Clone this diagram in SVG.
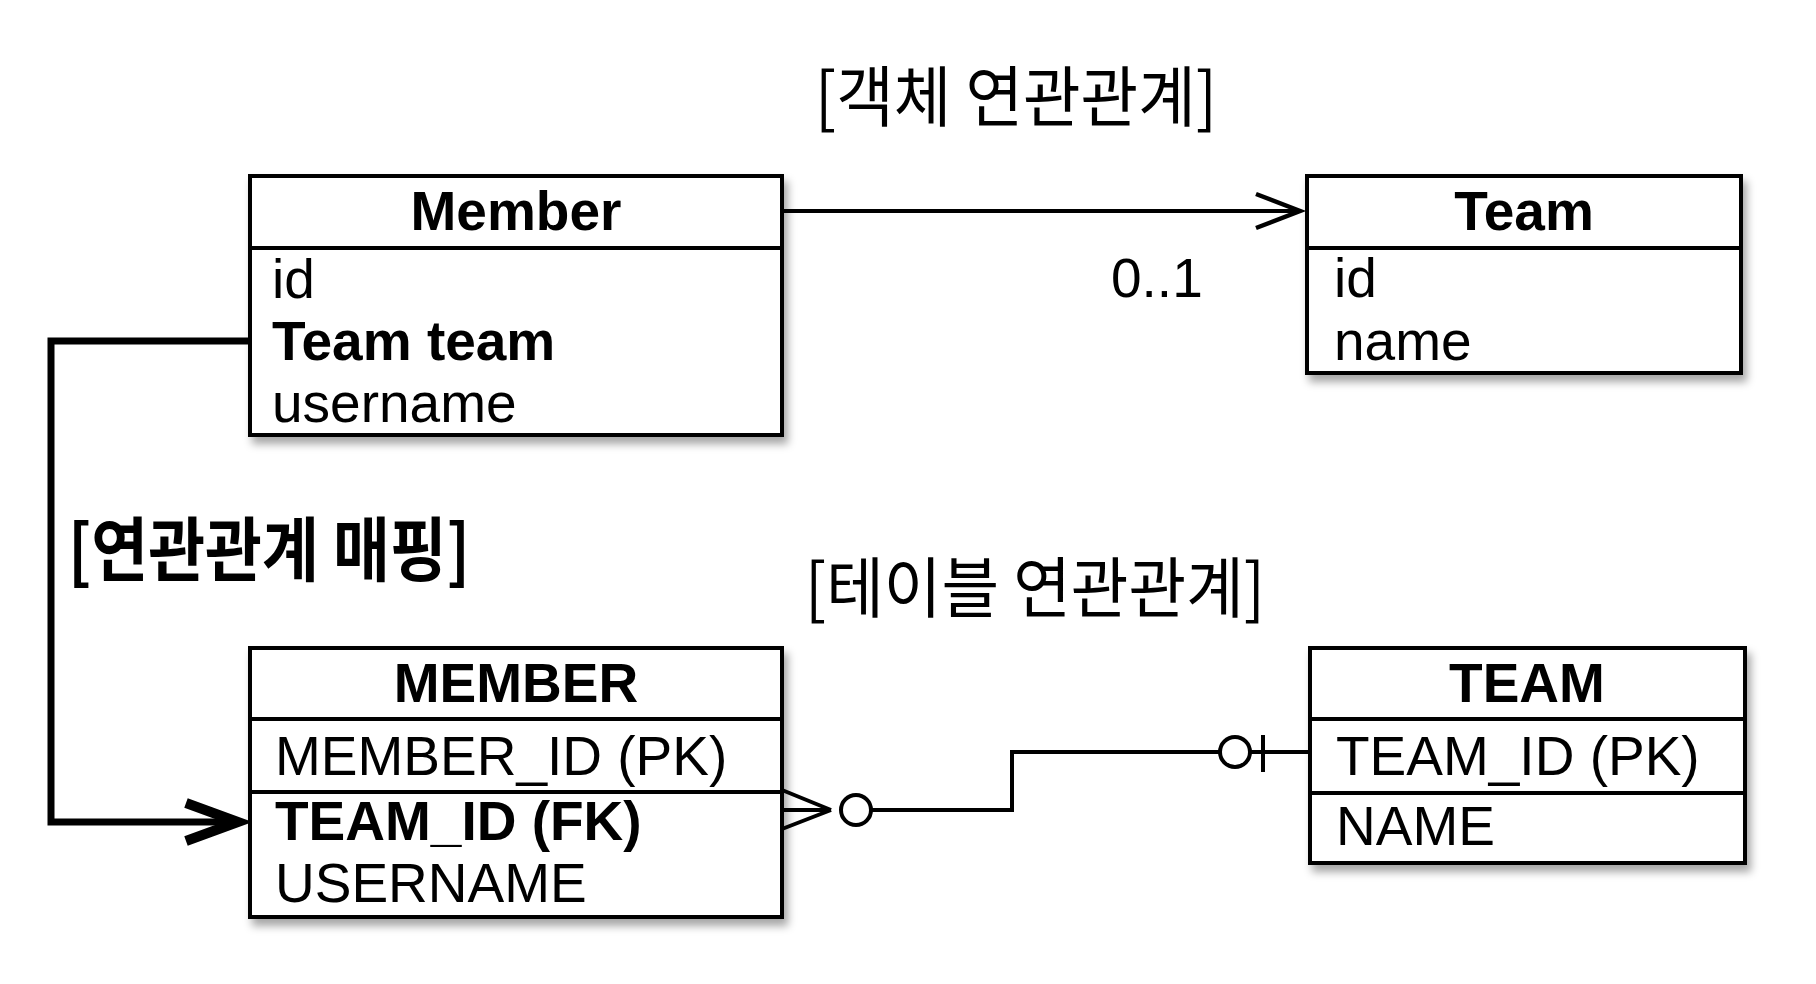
<svg xmlns="http://www.w3.org/2000/svg" width="1816" height="984" viewBox="0 0 1816 984">
<style>
.box{fill:#fff;stroke:#000;stroke-width:4;filter:url(#sh)}
.div{stroke:#000;stroke-width:4}
.t{font-family:"Liberation Sans",Arial,sans-serif;font-size:55px;fill:#000}
.b{font-weight:bold}
.c{text-anchor:middle}
.ko{font-family:"Noto Sans CJK KR","Liberation Sans",sans-serif;fill:#000}
.ln{fill:none;stroke:#000;stroke-width:4}
</style>
<defs>
<filter id="sh" x="-10%" y="-10%" width="125%" height="130%">
<feDropShadow dx="4" dy="7" stdDeviation="4" flood-color="#000" flood-opacity="0.35"/>
</filter>
<marker id="open" markerUnits="userSpaceOnUse" markerWidth="50" markerHeight="40" refX="44" refY="17" orient="auto" overflow="visible">
<path d="M0,0 L44,17 L0,34" fill="none" stroke="#000" stroke-width="4.5"/>
</marker>
<marker id="bigopen" markerUnits="userSpaceOnUse" markerWidth="70" markerHeight="50" refX="52" refY="19" orient="auto" overflow="visible">
<path d="M0,0 L52,19 L0,38" fill="none" stroke="#000" stroke-width="10"/>
</marker>
</defs>
<rect width="1816" height="984" fill="#fff"/>

<text class="ko" x="815" y="121" font-size="66" textLength="402" lengthAdjust="spacingAndGlyphs">[객체 연관관계]</text>
<text class="ko" x="805" y="612" font-size="66" textLength="460" lengthAdjust="spacingAndGlyphs">[테이블 연관관계]</text>
<text class="ko" x="68" y="576" font-size="70" font-weight="bold" textLength="402" lengthAdjust="spacingAndGlyphs">[연관관계 매핑]</text>

<g id="connectors">
<path class="ln" d="M782,211 H1300" stroke-width="3.5" marker-end="url(#open)"/>
<text class="t" x="1111" y="297">0..1</text>
<path d="M250,341 H51 V822 H238" fill="none" stroke="#000" stroke-width="7" stroke-linejoin="miter" marker-end="url(#bigopen)"/>
<path class="ln" d="M782,790 L831,810 M782,810 H831 M782,829 L831,810"/>
<circle cx="856" cy="810" r="15" fill="#fff" stroke="#000" stroke-width="4"/>
<path class="ln" d="M871,810 H1012 V752 H1220"/>
<circle cx="1235" cy="752" r="15" fill="#fff" stroke="#000" stroke-width="4"/>
<path class="ln" d="M1263,735 V772 M1250,752 H1310"/>
</g>

<g id="Member">
<rect class="box" x="250" y="176" width="532" height="259"/>
<line class="div" x1="250" y1="248" x2="782" y2="248"/>
<text class="t b c" x="516" y="230">Member</text>
<text class="t" x="272" y="298">id</text>
<text class="t b" x="272" y="360">Team team</text>
<text class="t" x="272" y="422">username</text>
</g>

<g id="Team">
<rect class="box" x="1307" y="176" width="434" height="197"/>
<line class="div" x1="1307" y1="248" x2="1741" y2="248"/>
<text class="t b c" x="1524" y="230">Team</text>
<text class="t" x="1334" y="297">id</text>
<text class="t" x="1334" y="360">name</text>
</g>

<g id="MEMBER">
<rect class="box" x="250" y="648" width="532" height="269"/>
<line class="div" x1="250" y1="719" x2="782" y2="719"/>
<line class="div" x1="250" y1="792" x2="782" y2="792"/>
<text class="t b c" x="516" y="702">MEMBER</text>
<text class="t" x="275" y="775">MEMBER_ID (PK)</text>
<text class="t b" x="275" y="840" font-size="54">TEAM_ID (FK)</text>
<text class="t" x="275" y="902">USERNAME</text>
</g>

<g id="TEAM">
<rect class="box" x="1310" y="648" width="435" height="215"/>
<line class="div" x1="1310" y1="719" x2="1745" y2="719"/>
<line class="div" x1="1310" y1="793" x2="1745" y2="793"/>
<text class="t b c" x="1527" y="702">TEAM</text>
<text class="t" x="1336" y="775">TEAM_ID (PK)</text>
<text class="t" x="1336" y="845">NAME</text>
</g>
</svg>
